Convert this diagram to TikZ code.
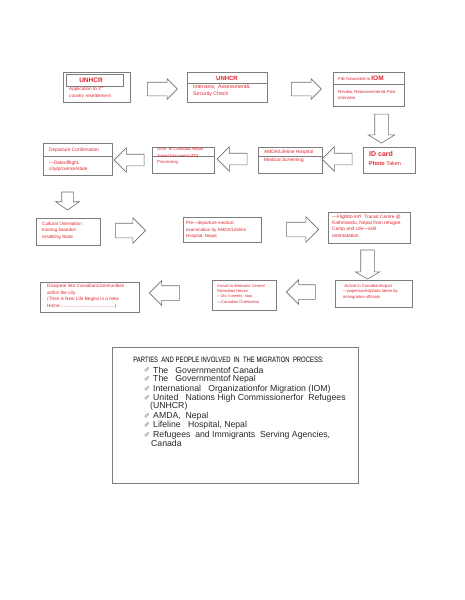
\documentclass[tikz,border=0pt]{standalone}
\usepackage{fontspec}
\setmainfont{Liberation Sans}
\newfontfamily\symfont{DejaVu Sans}
\usetikzlibrary{shapes.arrows}
\definecolor{txtred}{RGB}{222,35,45}
\definecolor{boxgray}{RGB}{125,125,125}
\definecolor{arrgray}{RGB}{110,110,110}
\definecolor{pengray}{RGB}{120,120,120}
\definecolor{itemgray}{RGB}{40,40,40}
\tikzset{
  box/.style={draw=boxgray, line width=0.8pt, inner sep=0pt, anchor=north west},
  divider/.style={draw=boxgray, line width=0.7pt},
  lbl/.style={text=txtred, anchor=north west, inner sep=0pt, align=left},
  barr/.style={single arrow, draw=arrgray, line width=0.6pt, inner xsep=0pt,
    single arrow head indent=0pt, fill=white},
  item/.style={anchor=west, inner sep=0pt, text=itemgray, font=\fontsize{8.7}{10}\selectfont},
  pen/.style={anchor=west, inner sep=0pt, text=pengray, font=\symfont\fontsize{7}{7}\selectfont},
}
\begin{document}
\begin{tikzpicture}[x=1pt,y=-1pt]
\useasboundingbox (0,0) rectangle (464,600);

% ---------- row 1 ----------
\node[box, minimum width=67pt, minimum height=30pt] (b1) at (63,72) {};
\node[draw=boxgray, line width=0.7pt, inner sep=0pt, anchor=north west, minimum width=57pt, minimum height=12pt] (b1t) at (66,74) {};
\node[text=txtred, font=\bfseries\fontsize{6.5}{7}\selectfont, inner sep=0pt] (t1) at (91,80) {UNHCR};
\node[lbl, font=\fontsize{4.6}{7}\selectfont] (t1b) at (69,85.5) {Application to 3\textsuperscript{rd}\\country resettlement};

\node[barr, minimum height=30pt, inner ysep=6.5pt, single arrow head extend=3.5pt] (a1) at (159,89) {};

\node[box, minimum width=80pt, minimum height=30pt] (b2) at (187,72) {};
\draw[divider] (b2.west |- 0,83) -- (b2.east |- 0,83);
\node[text=txtred, font=\bfseries\fontsize{6}{7}\selectfont, inner sep=0pt] (t2) at (227,78) {UNHCR};
\node[lbl, font=\fontsize{5.2}{7}\selectfont] (t2b) at (193,85) {Interview,\ \ Assessment\&\\Security Check};

\node[barr, minimum height=30pt, inner ysep=6.5pt, single arrow head extend=3.5pt] (a2) at (303,89) {};

\node[box, minimum width=71pt, minimum height=34pt] (b3) at (333,72) {};
\draw[divider] (b3.west |- 0,84) -- (b3.east |- 0,84);
\node[lbl, anchor=base west, font=\fontsize{4.3}{5}\selectfont] (t3) at (338,80) {File forwarded to {\bfseries\fontsize{6.5}{7}\selectfont IOM}};
\node[lbl, font=\fontsize{4.3}{6}\selectfont] (t3b) at (338,90) {Review, Reassessment\& Post\\interview};

\node[barr, rotate=-90, minimum height=29pt, inner ysep=6.5pt, single arrow head extend=6.5pt, single arrow tip angle=116] (a3) at (381.5,126.5) {};

% ---------- row 2 ----------
\node[box, minimum width=52pt, minimum height=26pt] (b4) at (363,147) {};
\node[lbl, font=\bfseries\fontsize{7}{8}\selectfont] (t4) at (369,151) {ID card};
\node[lbl, font=\fontsize{5.5}{6}\selectfont] (t4b) at (369,161) {\textbf{Photo} Taken};

\node[barr, rotate=180, minimum height=30pt, inner ysep=5.5pt, single arrow head extend=6.5pt] (a4) at (340,159) {};

\node[box, minimum width=64pt, minimum height=26pt] (b5) at (258,147) {};
\draw[divider] (b5.west |- 0,156) -- (b5.east |- 0,156);
\node[lbl, font=\fontsize{4.8}{8}\selectfont] (t5) at (264,149.5) {AMDA/Lifeline Hospital\\Medical Screening};

\node[barr, rotate=180, minimum height=30pt, inner ysep=5.5pt, single arrow head extend=6.5pt] (a5) at (235,159) {};

\node[box, minimum width=62pt, minimum height=26pt] (b6) at (152,147) {};
\draw[divider] (b6.west |- 0,156) -- (b6.east |- 0,156);
\node[lbl, font=\fontsize{4.2}{6.5}\selectfont] (t6) at (157,147.5) {Govt. of Canada\& Nepal\\Travel Document (TD)\\Processing};

\node[barr, rotate=180, minimum height=30pt, inner ysep=5.5pt, single arrow head extend=6.5pt] (a6) at (132,160) {};

\node[box, minimum width=69pt, minimum height=32pt] (b7) at (43,143) {};
\draw[divider] (b7.west |- 0,156) -- (b7.east |- 0,156);
\node[lbl, font=\fontsize{4.8}{6}\selectfont] (t7) at (49,148) {Departure Confirmation};
\node[lbl, font=\fontsize{4.8}{6.5}\selectfont] (t7b) at (49,160.5) {---Dateofflight,\\city/province/state};

\node[barr, rotate=-90, minimum height=18pt, inner ysep=5.5pt, single arrow head extend=6pt, single arrow tip angle=110] (a7) at (67.5,199) {};

% ---------- row 3 ----------
\node[box, minimum width=64pt, minimum height=27pt] (b8) at (36,218) {};
\node[lbl, font=\fontsize{4.6}{6.5}\selectfont] (t8) at (42,221.5) {Cultural Orientation\\training basedon\\resettling State};

\node[barr, minimum height=30pt, inner ysep=7pt, single arrow head extend=5.5pt] (a8) at (127,230.5) {};

\node[box, minimum width=78pt, minimum height=25pt] (b9) at (183,217) {};
\node[lbl, font=\fontsize{4.5}{6.5}\selectfont] (t9) at (186,221.5) {Pre---departure medical\\examination by AMDA/Lifeline\\Hospital, Nepal};

\node[barr, minimum height=32pt, inner ysep=7pt, single arrow head extend=5.5pt] (a9) at (299,229.5) {};

\node[box, minimum width=82pt, minimum height=31pt] (b10) at (328,212) {};
\node[lbl, font=\fontsize{4.8}{6.4}\selectfont] (t10) at (332,214.5) {---Flightto Int'l\ \ Transit Centre @\\Kathmandu, Nepal from refugee\\Camp and Life---skill\\orientatation.};

\node[barr, rotate=-90, minimum height=29pt, inner ysep=6.5pt, single arrow head extend=5.5pt, single arrow tip angle=120] (a10) at (367.5,262.5) {};

% ---------- row 4 ----------
\node[box, minimum width=77pt, minimum height=27pt] (b11) at (335,280) {};
\node[lbl, font=\fontsize{4.2}{5.6}\selectfont] (t11) at (343,284) {\ Arrival in CanadianAirport\\---paperworks/photo taken by\\immigration officials};

\node[barr, rotate=180, minimum height=29pt, inner ysep=7pt, single arrow head extend=5pt] (a11) at (304.5,292) {};

\node[box, minimum width=64pt, minimum height=30pt] (b12) at (212,280) {};
\node[lbl, font=\fontsize{4}{5.4}\selectfont] (t12) at (217,284) {Arrival to Welcome Centre/\\Reception House\\---2to 3 weeks\ \ stay\\---Canadian Orientation};

\node[barr, rotate=180, minimum height=30pt, inner ysep=7pt, single arrow head extend=5pt] (a12) at (168,293) {};

\node[box, minimum width=99pt, minimum height=30pt] (b13) at (40,282) {};
\node[lbl, font=\fontsize{4.7}{6.6}\selectfont] (t13) at (47,284) {Dissipate into CanadianCommunities\\within the city\\(Then A New Life Begins in a New\\Home..........................................)};

% ---------- parties box ----------
\node[box, minimum width=246pt, minimum height=136pt] (b14) at (112,347) {};
\node[inner sep=0pt, font=\fontsize{7.8}{8}\selectfont] (pt) at (228.5,360) {\scalebox{0.76}[1]{PARTIES\ \ AND PEOPLE INVOLVED\ \ IN\ \ THE MIGRATION\ \ PROCESS:}};

\foreach \yy/\nm in {370/p1,379/p2,389/p3,398/p4,416/p5,425/p6,435/p7}
  \node[pen] (\nm) at (144,\yy) {✐};
\node[item] (i1) at (153,370) {The\ \ \ Governmentof Canada};
\node[item] (i2) at (153,379) {The\ \ \ Governmentof Nepal};
\node[item] (i3) at (153,389) {International\ \ \ Organizationfor Migration (IOM)};
\node[item] (i4) at (153,398) {United\ \ \ Nations High Commissionerfor\ \ Refugees};
\node[item] (i4b) at (150,406.5) {(UNHCR)};
\node[item] (i5) at (153,416) {AMDA,\ \ Nepal};
\node[item] (i6) at (153,425) {Lifeline\ \ \ Hospital, Nepal};
\node[item] (i7) at (153,435) {Refugees\ \ and Immigrants\ \ Serving Agencies,};
\node[item] (i7b) at (151,443.5) {Canada};
\end{tikzpicture}
\end{document}
